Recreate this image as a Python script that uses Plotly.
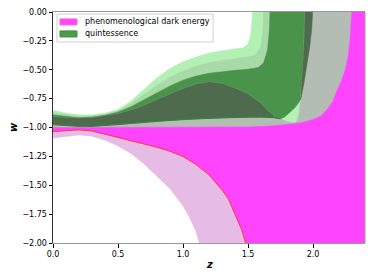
import plotly.graph_objects as go

# ---------------- data ----------------
# quintessence, outer (lightest) contour: upper boundary
ug2_z = [0.0, 0.1, 0.2, 0.3, 0.4, 0.5, 0.6, 0.7, 0.8, 0.9, 1.0, 1.1, 1.2, 1.3, 1.4, 1.46, 1.5, 1.52, 1.53, 1.535]
ug2_w = [-0.85, -0.875, -0.89, -0.89, -0.875, -0.845, -0.77, -0.67, -0.57, -0.49, -0.43, -0.39, -0.355, -0.335, -0.32, -0.31, -0.28, -0.2, -0.08, 0.05]
# quintessence, outer contour: lower boundary
lg2_z = [0.0, 1.85, 1.9, 1.93, 1.95, 1.96]
lg2_w = [-1.0, -1.0, -0.95, -0.8, -0.4, 0.05]
# quintessence, middle contour: upper boundary
ug2b_z = [0.0, 0.1, 0.2, 0.3, 0.4, 0.5, 0.6, 0.7, 0.8, 0.9, 1.0, 1.1, 1.2, 1.3, 1.4, 1.5, 1.56, 1.6, 1.615, 1.62]
ug2b_w = [-0.87, -0.89, -0.905, -0.9, -0.885, -0.855, -0.795, -0.715, -0.635, -0.565, -0.51, -0.47, -0.44, -0.42, -0.405, -0.39, -0.37, -0.3, -0.15, 0.05]
# quintessence, inner contour: upper boundary
ug1_z = [0.0, 0.1, 0.2, 0.3, 0.4, 0.5, 0.6, 0.7, 0.8, 0.9, 1.0, 1.1, 1.2, 1.3, 1.4, 1.5, 1.58, 1.62, 1.65, 1.665, 1.67]
ug1_w = [-0.89, -0.905, -0.915, -0.91, -0.895, -0.865, -0.82, -0.76, -0.70, -0.64, -0.59, -0.555, -0.53, -0.515, -0.505, -0.495, -0.48, -0.44, -0.33, -0.15, 0.05]
# quintessence, inner contour: lower boundary
lg1_z = [0.0, 0.1, 0.2, 0.3, 0.4, 0.5, 0.6, 0.7, 0.8, 0.9, 1.0, 1.1, 1.2, 1.3, 1.4, 1.5, 1.6, 1.7, 1.75, 1.78, 1.82, 1.86, 1.885, 1.905, 1.93, 1.955, 1.975, 1.99, 2.0]
lg1_w = [-0.975, -0.985, -0.99, -0.99, -0.985, -0.975, -0.965, -0.955, -0.945, -0.935, -0.93, -0.925, -0.92, -0.915, -0.91, -0.91, -0.91, -0.915, -0.925, -0.91, -0.87, -0.83, -0.79, -0.76, -0.62, -0.45, -0.3, -0.15, 0.05]
# phenomenological dark energy, outer contour (above w = -1): upper boundary
up2_z = [0.0, 0.1, 0.2, 0.3, 0.4, 0.5, 0.6, 0.7, 0.8, 0.9, 1.0, 1.1, 1.2, 1.3, 1.4, 1.5, 1.6, 1.65, 1.7, 1.75, 1.8, 1.86, 1.88, 1.895, 1.905, 1.915, 1.925, 1.933, 1.94]
up2_w = [-0.91, -0.915, -0.92, -0.915, -0.9, -0.88, -0.85, -0.81, -0.76, -0.71, -0.665, -0.625, -0.605, -0.62, -0.66, -0.71, -0.79, -0.85, -0.9, -0.925, -0.95, -0.96, -0.94, -0.87, -0.76, -0.6, -0.4, -0.2, 0.05]
# phenomenological dark energy, inner contour: upper boundary
up1_z = [0.0, 1.5, 1.7, 1.82, 1.9, 2.0, 2.06, 2.11, 2.15, 2.18, 2.22, 2.25, 2.27, 2.285, 2.295, 2.3, 2.5]
up1_w = [-1.0, -0.995, -0.985, -0.97, -0.96, -0.93, -0.9, -0.84, -0.78, -0.69, -0.59, -0.49, -0.38, -0.23, -0.1, 0.05, 0.05]
# phenomenological dark energy, inner contour: lower boundary (red line)
lp1_z = [0.0, 0.1, 0.2, 0.3, 0.4, 0.5, 0.6, 0.7, 0.8, 0.9, 1.0, 1.1, 1.2, 1.3, 1.35, 1.4, 1.45, 1.49, 2.5]
lp1_w = [-1.035, -1.025, -1.02, -1.03, -1.055, -1.085, -1.115, -1.14, -1.17, -1.205, -1.25, -1.32, -1.41, -1.54, -1.62, -1.75, -1.88, -2.03, -2.1]
# phenomenological dark energy, outer contour: lower boundary
lp2_z = [0.0, 0.1, 0.2, 0.3, 0.4, 0.5, 0.6, 0.7, 0.8, 0.9, 1.0, 1.05, 1.1, 1.13]
lp2_w = [-1.09, -1.075, -1.065, -1.075, -1.11, -1.16, -1.225, -1.315, -1.42, -1.53, -1.68, -1.78, -1.9, -2.02]

x_ticks = [0.0, 0.5, 1.0, 1.5, 2.0]
y_ticks = [0.0, -0.25, -0.5, -0.75, -1.0, -1.25, -1.5, -1.75, -2.0]
series_names = ["phenomenological dark energy", "quintessence"]

# ---------------- colours ----------------
C_G2 = "#b3f0b3"
C_G2B = "#a7daa7"
C_G1 = "#4a934a"
C_GRAY = "#b4bdb4"
C_DARK = "#4e6b4e"
C_PINK = "#e6bbe6"
C_MAG = "#ff44ff"


def band(zu, wu, zl, wl):
    return list(zu) + list(zl)[::-1], list(wu) + list(wl)[::-1]


fig = go.Figure()


def add_poly(x, y, color):
    fig.add_trace(go.Scatter(
        x=x, y=y, mode="lines", fill="toself", fillcolor=color,
        line=dict(color=color, width=0.5),
        showlegend=False, hoverinfo="skip"))


x, y = band(ug2_z, ug2_w, lg2_z, lg2_w)
add_poly(x, y, C_G2)
x, y = band(ug2b_z, ug2b_w, lg1_z, lg1_w)
add_poly(x, y, C_G2B)
x, y = band(ug1_z, ug1_w, lg1_z, lg1_w)
add_poly(x, y, C_G1)
x, y = band(up2_z, up2_w, up1_z, up1_w)
add_poly(x, y, C_GRAY)
# overlap: hump
hz = [z for z in up2_z if z <= 1.75]
hw = [w for z, w in zip(up2_z, up2_w) if z <= 1.75]
lz = [z for z in lg1_z if z <= 1.75]
lw = [w for z, w in zip(lg1_z, lg1_w) if z <= 1.75]
x, y = band(hz, hw, lz, lw)
add_poly(x, y, C_DARK)
# overlap: vertical stripe
sz = [z for z in up2_z if z >= 1.905]
sw = [w for z, w in zip(up2_z, up2_w) if z >= 1.905]
tz = [z for z in lg1_z if z >= 1.905]
tw = [w for z, w in zip(lg1_z, lg1_w) if z >= 1.905]
x, y = band(sz, sw, tz, tw)
add_poly(x, y, C_DARK)
x, y = band(lp1_z, lp1_w, lp2_z, lp2_w)
add_poly(x, y, C_PINK)
x, y = band(up1_z, up1_w, lp1_z, lp1_w)
add_poly(x, y, C_MAG)

# edge lines
fig.add_trace(go.Scatter(x=lz, y=lw, mode="lines", line=dict(color="#2e8a2e", width=1),
                         showlegend=False, hoverinfo="skip"))
fig.add_trace(go.Scatter(x=lp1_z, y=lp1_w, mode="lines",
                         line=dict(color="#ff3a3a", width=1),
                         showlegend=False, hoverinfo="skip"))

font = "DejaVu Sans"

# manual legend (paper coordinates of the plot area)
shapes = [
    dict(type="rect", xref="paper", yref="paper", x0=0.0128, x1=0.513, y0=0.870, y1=0.991,
         line=dict(color="#d0d0d0", width=1), fillcolor="rgba(255,255,255,0.85)", layer="above"),
    dict(type="rect", xref="paper", yref="paper", x0=0.0224, x1=0.0769, y0=0.944, y1=0.970,
         line=dict(color="#ff66cc", width=1), fillcolor=C_MAG, layer="above"),
    dict(type="rect", xref="paper", yref="paper", x0=0.0224, x1=0.0769, y0=0.892, y1=0.918,
         line=dict(color="#3c8a3c", width=1), fillcolor="#4c9c4c", layer="above"),
    dict(type="line", xref="paper", yref="paper", x0=1, x1=1, y0=0, y1=1,
         line=dict(color="#999999", width=1)),
]
annotations = [
    dict(xref="paper", yref="paper", x=0.0962, y=0.957, text=series_names[0], showarrow=False,
         xanchor="left", yanchor="middle", font=dict(size=8, family=font, color="black")),
    dict(xref="paper", yref="paper", x=0.0962, y=0.905, text=series_names[1], showarrow=False,
         xanchor="left", yanchor="middle", font=dict(size=8, family=font, color="black")),
    dict(xref="paper", yref="paper", x=0.5, y=-0.095, text="<b><i>z</i></b>", showarrow=False,
         xanchor="center", yanchor="middle", font=dict(size=10, family=font, color="black")),
    dict(xref="paper", yref="paper", x=-0.128, y=0.502, text="<b><i>w</i></b>", showarrow=False,
         textangle=-90, xanchor="center", yanchor="middle",
         font=dict(size=10, family=font, color="black")),
]

fig.update_layout(
    width=374, height=280,
    margin=dict(l=53, r=9, t=12, b=37),
    paper_bgcolor="white", plot_bgcolor="white",
    font=dict(family=font, size=8, color="black"),
    showlegend=False,
    xaxis=dict(range=[0, 2.4], tickvals=x_ticks, tickformat=".1f",
               ticks="outside", ticklen=3.5, tickcolor="black",
               showline=True, linecolor="#999999", linewidth=1, mirror=True,
               showgrid=False, zeroline=False, automargin=False),
    yaxis=dict(range=[-2, 0], tickvals=y_ticks, tickformat=".2f",
               ticks="outside", ticklen=3.5, tickcolor="black",
               showline=True, linecolor="#333333", linewidth=1, mirror=False,
               showgrid=False, zeroline=False, automargin=False),
    shapes=shapes,
    annotations=annotations,
)

fig.write_html("out.html", config={"displayModeBar": False, "staticPlot": True},
               post_script="document.body.style.margin='0px';document.body.style.overflow='hidden';")
